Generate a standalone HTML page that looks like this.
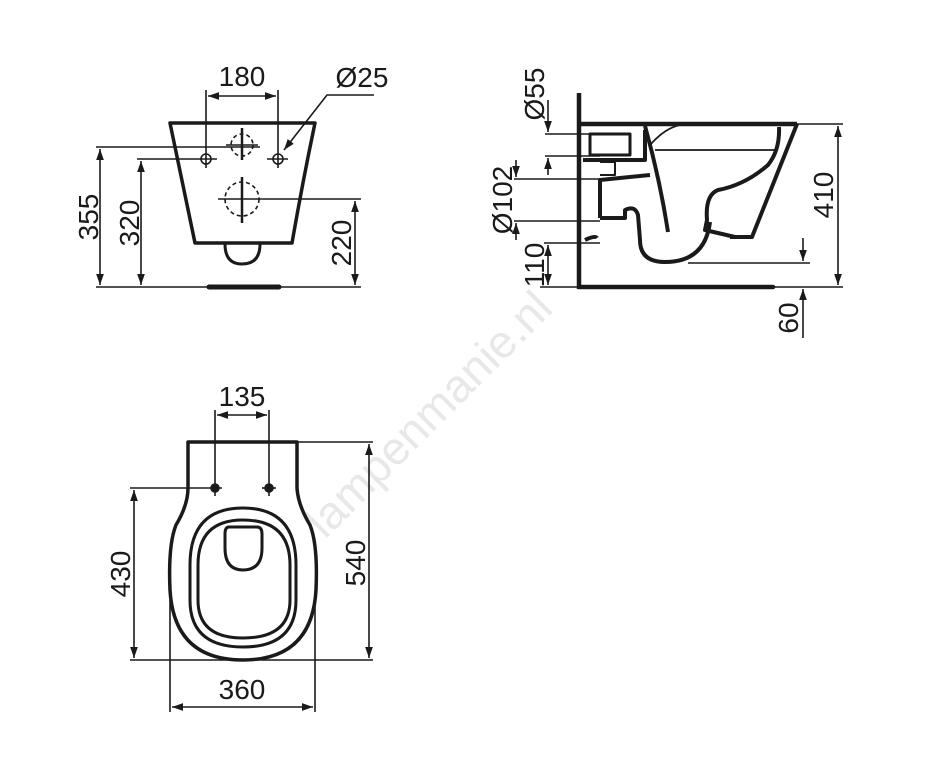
<!DOCTYPE html>
<html><head><meta charset="utf-8"><style>
html,body{margin:0;padding:0;background:#fff;}
svg{display:block;}
text{font-family:"Liberation Sans",sans-serif;font-size:28px;fill:#1a1a1a;}
</style></head><body>
<svg width="925" height="779" viewBox="0 0 925 779" xmlns="http://www.w3.org/2000/svg">
<defs>
<marker id="a" viewBox="0 0 10 10" refX="10" refY="5" markerWidth="11" markerHeight="11" markerUnits="userSpaceOnUse" orient="auto-start-reverse">
<path d="M0,1.5 L10,5 L0,8.5 Z" fill="#1a1a1a"/></marker>
</defs>
<text x="325" y="540" transform="rotate(-45 325 540)" style="font-size:46px;fill:#e8e8e8">lampenmanie.nl</text>

<g stroke="#1a1a1a" fill="none" stroke-width="1.6">
<!-- FRONT VIEW -->
<path d="M170,123 L315,123 Q303,180 292,243 L195,243 Q182,180 170,123 Z" stroke-width="3.5" stroke-linejoin="round"/>
<path d="M225,244 Q225,264 242,264 Q260,264 260,244" stroke-width="3"/>
<line x1="96" y1="287" x2="361" y2="287"/>
<line x1="209" y1="287" x2="279" y2="287" stroke-width="5" stroke-linecap="round"/>
<line x1="96" y1="147" x2="260" y2="147"/>
<line x1="100" y1="149" x2="100" y2="285" marker-start="url(#a)" marker-end="url(#a)"/>
<line x1="137" y1="159" x2="217" y2="159"/>
<line x1="141" y1="161" x2="141" y2="285" marker-start="url(#a)" marker-end="url(#a)"/>
<line x1="218" y1="199" x2="361" y2="199"/>
<line x1="355" y1="201" x2="355" y2="285" marker-start="url(#a)" marker-end="url(#a)"/>
<line x1="206" y1="90" x2="206" y2="168"/>
<line x1="278" y1="90" x2="278" y2="168"/>
<line x1="208" y1="96" x2="276" y2="96" marker-start="url(#a)" marker-end="url(#a)"/>
<line x1="267" y1="159" x2="288" y2="159"/>
<circle cx="206" cy="159" r="5"/><circle cx="278" cy="159" r="5"/>
<path d="M374,95 L327,95 L284,150" marker-end="url(#a)"/>
<circle cx="242" cy="145" r="11" stroke-dasharray="4,3"/>
<line x1="242" y1="128" x2="242" y2="160" stroke-width="2.5"/>
<line x1="226" y1="145" x2="258" y2="145"/>
<circle cx="242" cy="199" r="17" stroke-dasharray="4,3"/>
<line x1="242" y1="177" x2="242" y2="223" stroke-width="2.5"/>

<!-- SIDE VIEW -->
<line x1="579" y1="93" x2="579" y2="289" stroke-width="4.5"/>
<line x1="579" y1="287" x2="773" y2="287" stroke-width="4.5" stroke-linecap="round"/>
<line x1="580" y1="124" x2="843" y2="124"/>
<line x1="580" y1="124" x2="797" y2="124" stroke-width="4.5"/>
<line x1="773" y1="287" x2="843" y2="287"/>
<g stroke-width="4" stroke-linejoin="round">
<path d="M797,124 L752,237 L730,237"/>
<path d="M779,127 Q780,150 768,165 Q745,185 718,190 Q705,195 707,220 L705,230 L735,237"/>
<path d="M645,126 Q660,180 668,232"/>
<path d="M710,222 Q705,262 665,262 Q640,262 640,240 L638,215 Q635,205 625,210 L625,218 L600,218"/>
<path d="M600,218 L600,180 L650,175"/>
<path d="M583,160 L645,160 L645,130"/>
<path d="M590,134 L630,134 L630,155 L590,155 Z" stroke-width="3"/>
<path d="M600,162 L615,162 L615,175 L600,175" stroke-width="2"/>
<path d="M585,240 Q595,235 597,238" stroke-width="4"/>
</g>
<path d="M650,145 Q665,128 680,125 M655,150 Q700,150 775,150" stroke-width="1.8"/>
<line x1="545" y1="134" x2="600" y2="134"/>
<line x1="545" y1="156" x2="600" y2="156"/>
<line x1="548" y1="100" x2="548" y2="132" marker-end="url(#a)"/>
<line x1="548" y1="175" x2="548" y2="158" marker-end="url(#a)"/>
<line x1="514" y1="179" x2="600" y2="179"/>
<line x1="514" y1="221" x2="600" y2="221"/>
<line x1="516" y1="160" x2="516" y2="177" marker-end="url(#a)"/>
<line x1="516" y1="240" x2="516" y2="223" marker-end="url(#a)"/>
<line x1="544" y1="243" x2="600" y2="243"/>
<line x1="540" y1="287" x2="579" y2="287"/>
<line x1="548" y1="245" x2="548" y2="285" marker-start="url(#a)" marker-end="url(#a)"/>
<line x1="838" y1="126" x2="838" y2="285" marker-start="url(#a)" marker-end="url(#a)"/>
<line x1="688" y1="263" x2="810" y2="263"/>
<line x1="803" y1="238" x2="803" y2="261" marker-end="url(#a)"/>
<line x1="803" y1="338" x2="803" y2="289" marker-end="url(#a)"/>

<!-- TOP VIEW -->
<path d="M188,442 L297,442 L297,488 Q298,505 310,525 Q318,545 316,590 Q312,660 243,660 Q174,660 170,590 Q168,545 176,525 Q188,505 188,488 Z" stroke-width="3.5" stroke-linejoin="round"/>
<path d="M243,508 Q296,508 296,565 L296,600 Q296,647 243,647 Q190,647 190,600 L190,565 Q190,508 243,508 Z" stroke-width="3"/>
<path d="M243,520 Q290,520 290,565 L290,600 Q290,638 243,638 Q198,638 198,600 L198,565 Q198,520 243,520 Z" stroke-width="3"/>
<path d="M229,527 L257,527 Q262,527 262,534 L262,548 Q262,570 243,570 Q225,570 225,548 L225,534 Q225,527 229,527 Z" stroke-width="3"/>
<line x1="297" y1="442" x2="373" y2="442"/>
<line x1="130" y1="488" x2="222" y2="488"/>
<line x1="262" y1="488" x2="276" y2="488"/>
<circle cx="215" cy="488" r="4" fill="#1a1a1a"/><circle cx="269" cy="488" r="4" fill="#1a1a1a"/>
<line x1="215" y1="410" x2="215" y2="496"/>
<line x1="269" y1="410" x2="269" y2="496"/>
<line x1="217" y1="415" x2="267" y2="415" marker-start="url(#a)" marker-end="url(#a)"/>
<line x1="130" y1="660" x2="373" y2="660"/>
<line x1="134" y1="490" x2="134" y2="658" marker-start="url(#a)" marker-end="url(#a)"/>
<line x1="369" y1="444" x2="369" y2="658" marker-start="url(#a)" marker-end="url(#a)"/>
<line x1="170" y1="600" x2="170" y2="712"/>
<line x1="315" y1="600" x2="315" y2="712"/>
<line x1="172" y1="707" x2="313" y2="707" marker-start="url(#a)" marker-end="url(#a)"/>
</g>

<!-- labels -->
<text x="242" y="86" text-anchor="middle">180</text>
<text x="362" y="87" text-anchor="middle">Ø25</text>
<text transform="translate(98,217) rotate(-90)" text-anchor="middle">355</text>
<text transform="translate(139,223) rotate(-90)" text-anchor="middle">320</text>
<text transform="translate(351,243) rotate(-90)" text-anchor="middle">220</text>
<text transform="translate(544,94) rotate(-90)" text-anchor="middle">Ø55</text>
<text transform="translate(512,200) rotate(-90)" text-anchor="middle">Ø102</text>
<text transform="translate(544,265) rotate(-90)" text-anchor="middle">110</text>
<text transform="translate(833,195) rotate(-90)" text-anchor="middle">410</text>
<text transform="translate(798,318) rotate(-90)" text-anchor="middle">60</text>
<text x="242" y="406" text-anchor="middle">135</text>
<text transform="translate(130,574) rotate(-90)" text-anchor="middle">430</text>
<text transform="translate(365,563) rotate(-90)" text-anchor="middle">540</text>
<text x="242" y="699" text-anchor="middle">360</text>
</svg>
</body></html>
